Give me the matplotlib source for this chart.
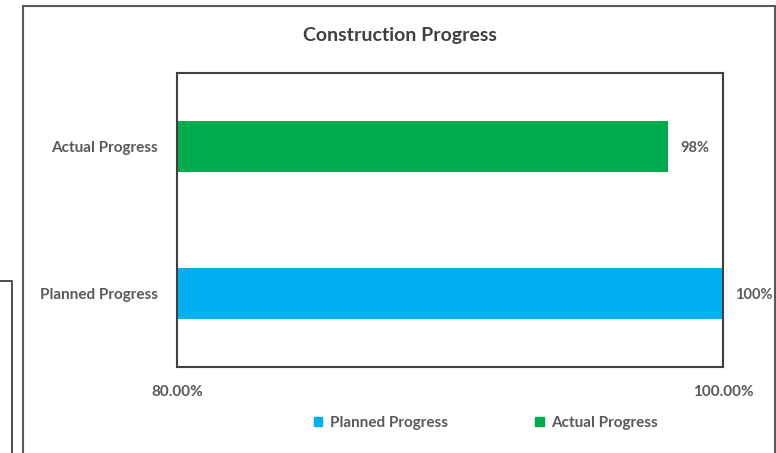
import matplotlib

matplotlib.use("Agg")
import matplotlib.pyplot as plt
from matplotlib.lines import Line2D
from matplotlib.patches import Rectangle

CATEGORIES = ["Planned Progress", "Actual Progress"]
VALUES = [100, 98]
BAR_LABELS = ["100%", "98%"]
X_MIN, X_MAX = 80, 100
X_TICK_LABELS = ["80.00%", "100.00%"]
TITLE = "Construction Progress"

BLUE = "#00B0F0"
GREEN = "#00AB4E"
TEXT = "#595959"
FONT = ["Lato", "DejaVu Sans"]

W, H = 776, 453


def fx(px):
    return px / W


def fy(py):
    return 1 - py / H


def main():
    plt.rcParams["font.family"] = FONT
    fig = plt.figure(figsize=(W / 100, H / 100), dpi=100)

    # outer chart-area border, plus the stray frame on the far left
    fig.patches.append(Rectangle((fx(23), fy(460)), fx(775) - fx(23), fy(6) - fy(460),
                                 transform=fig.transFigure, fill=False,
                                 edgecolor="#595959", lw=1.5))
    fig.lines.append(Line2D([fx(0), fx(12), fx(12)], [fy(281), fy(281), fy(460)],
                            transform=fig.transFigure, color="#404040", lw=1.3))

    ax = fig.add_axes([fx(177), fy(367), fx(723) - fx(177), fy(73) - fy(367)])
    colors = [BLUE, GREEN]
    y = list(range(len(CATEGORIES)))
    ax.barh(y, VALUES, height=0.35, color=colors, left=0)
    ax.set_xlim(X_MIN, X_MAX)
    ax.set_ylim(-0.5, 1.5)

    for yi, v, lab in zip(y, VALUES, BAR_LABELS):
        ax.text(min(v, X_MAX) + 0.45, yi - 0.01, lab, ha="left", va="center",
                fontsize=10.5, color=TEXT, fontweight="bold", clip_on=False)

    ax.set_yticks(y)
    ax.set_yticklabels(CATEGORIES, fontsize=11, color=TEXT, fontweight="bold")
    ax.set_xticks([X_MIN, X_MAX])
    ax.set_xticklabels(X_TICK_LABELS, fontsize=11, color=TEXT, fontweight="bold")
    ax.tick_params(axis="y", length=0, pad=14)
    ax.tick_params(axis="x", length=0, pad=13)
    for s in ax.spines.values():
        s.set_color("#404040")
        s.set_linewidth(1.5)

    fig.text(fx(400), fy(36), TITLE, ha="center", va="center", fontsize=14,
             color="#404040", fontweight="bold")

    handles = [Rectangle((0, 0), 1, 1, color=c) for c in colors]
    fig.legend(handles, CATEGORIES, loc="center", bbox_to_anchor=(fx(486), fy(423)),
               ncol=2, frameon=False, handlelength=0.55, handleheight=0.55,
               columnspacing=5.7, handletextpad=0.5,
               prop={"size": 11, "weight": "bold"}, labelcolor=TEXT)

    fig.savefig("out.png", dpi=100)


if __name__ == "__main__":
    main()
